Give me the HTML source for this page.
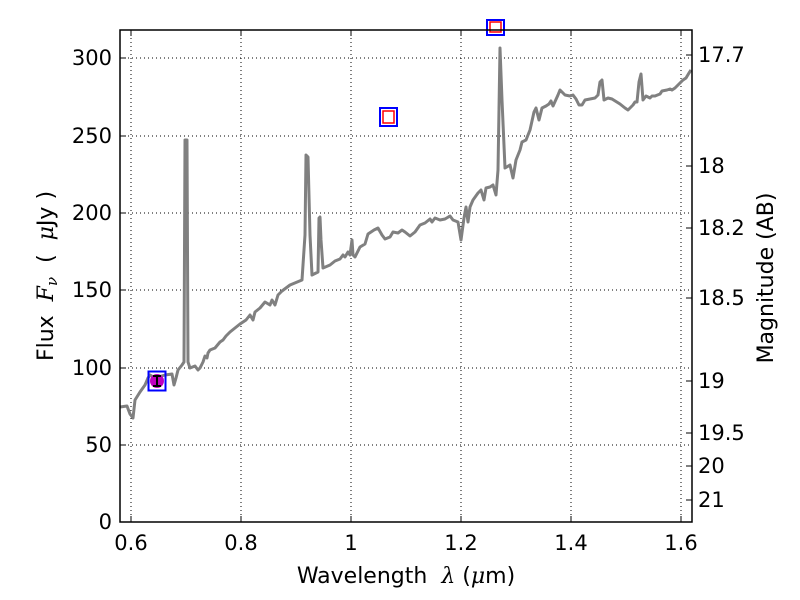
<!DOCTYPE html>
<html><head><meta charset="utf-8"><style>
html,body{margin:0;padding:0;background:#fff;}
svg{display:block;font-family:"DejaVu Sans","Liberation Sans",sans-serif;}
</style></head><body>
<svg width="800" height="600" viewBox="0 0 800 600" xmlns="http://www.w3.org/2000/svg">
<rect width="800" height="600" fill="#fff"/>
<g stroke="#000" stroke-width="1" stroke-dasharray="1,3" fill="none">
<line x1="131" y1="30" x2="131" y2="522"/><line x1="241" y1="30" x2="241" y2="522"/>
<line x1="351" y1="30" x2="351" y2="522"/><line x1="461" y1="30" x2="461" y2="522"/>
<line x1="571" y1="30" x2="571" y2="522"/><line x1="681" y1="30" x2="681" y2="522"/>
<line x1="120" y1="445" x2="692" y2="445"/><line x1="120" y1="368" x2="692" y2="368"/>
<line x1="120" y1="290" x2="692" y2="290"/><line x1="120" y1="213" x2="692" y2="213"/>
<line x1="120" y1="136" x2="692" y2="136"/><line x1="120" y1="58" x2="692" y2="58"/>
</g>
<polyline fill="none" stroke="#808080" stroke-width="3" stroke-linejoin="round" points="120,407 127,406 130,414 133,418 135,400 140,392 145,385 148,378 150,375 155,378 165,375 172,374 174,385 176,378 178,370 182,365 184,362 185,140 187,140 188,362 190,368 195,366 198,370 200,368 203,362 205,356 207,358 208,353 210,350 215,348 220,342 223,340 226,336 230,332 235,328 240,324 243,322 246,320 250,315 253,320 255,312 260,308 265,302 270,305 272,300 275,305 278,295 282,291 290,285 302,280 305,235 306,155 308,157 310,235 312,275 318,272 319,218 320,217 321,240 323,268 330,265 335,261 340,259 343,255 345,257 348,252 350,255 352,240 353,255 355,257 360,247 365,244 368,234 374,230 378,228 382,235 385,239 390,237 393,232 398,233 402,230 405,232 410,236 415,232 420,225 425,223 430,219 432,222 435,218 440,220 445,219 450,216 453,220 458,222 461,240 464,218 466,207 468,222 470,207 473,200 478,193 481,190 484,200 486,188 490,187 493,185 496,195 498,170 500,48 502,100 505,168 510,165 513,178 516,160 520,150 522,142 526,140 530,130 534,112 536,108 539,120 542,108 546,106 549,104 551,101 553,106 558,95 560,90 565,95 570,96 573,95 576,99 579,105 582,105 585,100 595,98 598,95 600,82 602,80 604,100 608,98 612,99 620,104 625,108 628,110 633,105 635,102 637,102 639,82 641,74 643,100 646,96 650,98 652,96 655,96 660,94 662,91 667,90 670,89 672,90 675,88 680,83 683,80 686,78 689,73 691,70"/>
<rect x="148.5" y="371.5" width="17" height="19" fill="none" stroke="#0000ff" stroke-width="2"/>
<circle cx="157" cy="381" r="7" fill="#bf00bf"/>
<g stroke="#000" stroke-width="2"><line x1="157" y1="376" x2="157" y2="386"/><line x1="153" y1="376" x2="161" y2="376"/><line x1="153" y1="386" x2="161" y2="386"/></g>
<rect x="380" y="108" width="17" height="18" fill="none" stroke="#0000ff" stroke-width="2"/>
<rect x="383" y="111" width="11" height="12" fill="none" stroke="#ff0000" stroke-width="1.5"/>
<rect x="487" y="20" width="17" height="15" fill="none" stroke="#0000ff" stroke-width="2"/>
<rect x="490" y="22" width="11" height="10" fill="none" stroke="#ff0000" stroke-width="1.5"/>
<rect x="487" y="0" width="17" height="19" fill="#fff"/>
<rect x="120" y="30" width="572" height="492" fill="none" stroke="#000" stroke-width="1.5"/>
<g stroke="#000" stroke-width="1">
<line x1="131" y1="522" x2="131" y2="516"/><line x1="241" y1="522" x2="241" y2="516"/><line x1="351" y1="522" x2="351" y2="516"/><line x1="461" y1="522" x2="461" y2="516"/><line x1="571" y1="522" x2="571" y2="516"/><line x1="681" y1="522" x2="681" y2="516"/>
<line x1="131" y1="30" x2="131" y2="36"/><line x1="241" y1="30" x2="241" y2="36"/><line x1="351" y1="30" x2="351" y2="36"/><line x1="461" y1="30" x2="461" y2="36"/><line x1="571" y1="30" x2="571" y2="36"/><line x1="681" y1="30" x2="681" y2="36"/>
<line x1="120" y1="522" x2="126" y2="522"/><line x1="120" y1="445" x2="126" y2="445"/><line x1="120" y1="368" x2="126" y2="368"/><line x1="120" y1="290" x2="126" y2="290"/><line x1="120" y1="213" x2="126" y2="213"/><line x1="120" y1="136" x2="126" y2="136"/><line x1="120" y1="58" x2="126" y2="58"/>
<line x1="692" y1="55" x2="686" y2="55"/><line x1="692" y1="166" x2="686" y2="166"/><line x1="692" y1="228" x2="686" y2="228"/><line x1="692" y1="298" x2="686" y2="298"/><line x1="692" y1="381" x2="686" y2="381"/><line x1="692" y1="433" x2="686" y2="433"/><line x1="692" y1="466" x2="686" y2="466"/><line x1="692" y1="500" x2="686" y2="500"/>
</g>
<g font-size="21" fill="#000">
<g text-anchor="end">
<text x="112" y="529">0</text><text x="112" y="452">50</text><text x="112" y="375">100</text><text x="112" y="297">150</text><text x="112" y="220">200</text><text x="112" y="143">250</text><text x="112" y="65">300</text>
</g>
<g text-anchor="middle">
<text x="131" y="550">0.6</text><text x="241" y="550">0.8</text><text x="351" y="550">1</text><text x="461" y="550">1.2</text><text x="571" y="550">1.4</text><text x="681" y="550">1.6</text>
</g>
<g text-anchor="start">
<text x="698" y="62">17.7</text><text x="698" y="173">18</text><text x="698" y="235">18.2</text><text x="698" y="305">18.5</text><text x="698" y="388">19</text><text x="698" y="440">19.5</text><text x="698" y="473">20</text><text x="698" y="507">21</text>
</g>
</g>
<g font-size="22" fill="#000">
<text x="406" y="583" text-anchor="middle" xml:space="preserve">Wavelength  <tspan font-family="DejaVu Serif,serif" font-style="italic">λ</tspan> (<tspan font-style="italic" font-family="DejaVu Serif,serif">μ</tspan>m)</text>
<text transform="translate(53,276) rotate(-90)" text-anchor="middle" xml:space="preserve">Flux  <tspan font-family="DejaVu Serif,serif" font-style="italic">F<tspan font-size="15" dy="4">ν</tspan></tspan><tspan dy="-4">  (  </tspan><tspan font-family="DejaVu Serif,serif" font-style="italic">μ</tspan>Jy )</text>
<text transform="translate(773,278) rotate(-90)" text-anchor="middle">Magnitude (AB)</text>
</g>
</svg>
</body></html>
